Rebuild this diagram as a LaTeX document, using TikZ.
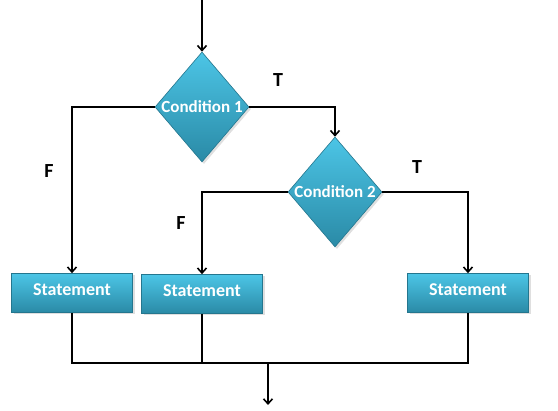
\documentclass[tikz,border=0pt]{standalone}
\usepackage{fontspec}
\setmainfont{Carlito}
\usetikzlibrary{shapes.geometric,shadows}
\usetikzlibrary{arrows.meta}
\usetikzlibrary{positioning}

\definecolor{boxtop}{RGB}{76,197,230}
\definecolor{boxbot}{RGB}{42,138,166}
\definecolor{boxedge}{RGB}{36,118,142}

\tikzset{
  fill shape/.style={top color=boxtop,bottom color=boxbot,draw=boxedge,line width=0.6pt,
    drop shadow={opacity=0.25,shadow xshift=2pt,shadow yshift=-2pt},
    text=white,font=\fontsize{17}{20}\selectfont\bfseries},
  decision/.style={fill shape,diamond,inner sep=0pt,minimum width=94pt,minimum height=110pt},
  statement/.style={fill shape,rectangle,inner sep=0pt,text depth=7pt,
    font=\fontsize{18}{21}\selectfont\bfseries,minimum width=121pt,minimum height=39pt},
  flow/.style={line width=1.8pt,-{Straight Barb[length=5pt,width=9pt,line width=1.6pt]}},
  link/.style={line width=1.8pt},
  branch/.style={font=\fontsize{20}{24}\selectfont\bfseries}
}

\begin{document}
\begin{tikzpicture}[x=1pt,y=1pt]
\useasboundingbox (0,0) rectangle (558,411);
\coordinate (start) at (202,411);
\coordinate (join) at (268,48);
\coordinate (end) at (268,6);
\node[decision] (cond1) at (202,304) {\makebox[0pt]{Condition 1}};
\node[decision] (cond2) at (335,219) {\makebox[0pt]{Condition 2}};
\node[statement] (stmt1) at (72,118) {Statement};
\node[statement] (stmt2) at (202,117) {Statement};
\node[statement] (stmt3) at (468,118) {Statement};
\node[branch] (t1) at (278,331) {T};
\node[branch] (t2) at (417,244) {T};
\node[branch] (f1) at (49,240) {F};
\node[branch] (f2) at (181,188) {F};
\draw[flow] (start) -- (cond1.north);
\draw[flow] (cond1.west) -| (stmt1.north);
\draw[flow] (cond1.east) -| (cond2.north);
\draw[flow] (cond2.west) -| (stmt2.north);
\draw[flow] (cond2.east) -| (stmt3.north);
\draw[link] (stmt1.south) |- (stmt3.south |- join) -- (stmt3.south);
\draw[link] (stmt2.south) -- (stmt2.south |- join);
\draw[flow] (join) -- (end);
\end{tikzpicture}
\end{document}
